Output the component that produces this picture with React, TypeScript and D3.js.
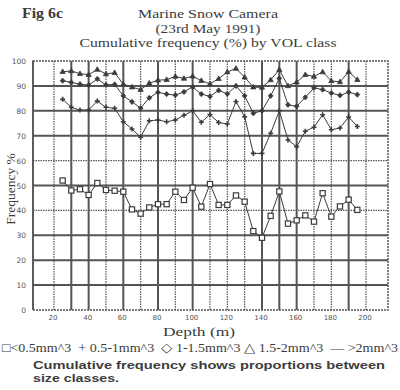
import React from "react";
import * as d3 from "d3";

const depths = [25, 30, 35, 40, 45, 50, 55, 60, 65, 70, 75, 80, 85, 90, 95, 100, 105, 110, 115, 120, 125, 130, 135, 140, 145, 150, 155, 160, 165, 170, 175, 180, 185, 190, 195];

const lt05 = [52, 48, 48.5, 46.2, 51, 48.2, 47.9, 47.5, 40.4, 38.7, 41.2, 42.5, 42.5, 47.5, 44.2, 49.1, 41.5, 50.6, 42.2, 42.2, 46, 43.5, 31.7, 29, 37.8, 47.6, 34.7, 36, 38, 35.5, 46.9, 37.5, 41.6, 44.3, 40.2];
const to1 = [84.6, 81.4, 80.3, 80.3, 83.9, 81.4, 81, 75.6, 72.7, 69.4, 76, 76.3, 75.6, 76.3, 78.2, 80, 75.4, 78.5, 75.3, 74.7, 83.7, 77.6, 62.9, 62.9, 71, 80, 68.3, 65.6, 71.8, 73.4, 78.4, 72.4, 73.1, 77.5, 73.7];
const to15 = [92.1, 91.4, 90.7, 90.3, 92.8, 90.4, 90.6, 86, 83.6, 81.1, 85.2, 87.4, 86.7, 86.3, 87.6, 89.6, 86.7, 85.8, 88.2, 86.8, 90, 86, 79, 80, 86, 93, 82.4, 81.8, 85.4, 89.2, 88.5, 87.1, 86.2, 87.5, 86.5];
const to2 = [95.7, 96, 94.9, 94.5, 96.6, 94.8, 95.3, 90.7, 89.5, 88.5, 91.1, 92.3, 92.5, 93.8, 93, 93.9, 92.1, 90.8, 92.9, 95.6, 97, 93.5, 89.5, 89.4, 92.4, 96.5, 90, 91.5, 94.5, 93.8, 95.6, 92, 91.6, 95.7, 92.5];

const xTicks = [20, 40, 60, 80, 100, 120, 140, 160, 180, 200];
const xGrid = [20, 30, 40, 50, 60, 70, 80, 90, 100, 110, 120, 130, 140, 150, 160, 170, 180, 190, 200];
const yTicks = [0, 10, 20, 30, 40, 50, 60, 70, 80, 90, 100];

const titleLines = ["Marine Snow Camera", "(23rd May 1991)", "Cumulative frequency (%) by VOL class"];
const titleWidths = [140, 105, 257];
const legendText = "\u25A1<0.5mm^3  + 0.5-1mm^3  \u25C7 1-1.5mm^3 \u25B3 1.5-2mm^3  \u2014 >2mm^3";
const captionLines = ["Cumulative frequency shows proportions between", "size classes."];

const boldX = new Set([30, 40, 60, 80, 100, 140, 150, 160, 190]);
const boldY = new Set([10, 20, 30, 50, 70, 80, 90]);

const INK = "#3c3c3c";

export default function App() {
  const W = 400, H = 390;
  const left = 33, right = 388, top = 61, bottom = 310;
  const x = d3.scaleLinear().domain([7.9, 212.7]).range([left, right]);
  const y = d3.scaleLinear().domain([0, 100]).range([bottom, top]);

  const line = d3.line<number>().x((_, i) => x(depths[i])).y((v) => y(v));

  const series = [
    { key: "sq", vals: lt05 },
    { key: "plus", vals: to1 },
    { key: "dia", vals: to15 },
    { key: "tri", vals: to2 },
  ];

  const marker = (key: string, cx: number, cy: number, k: number) => {
    if (key === "sq")
      return <rect key={k} x={cx - 2.6} y={cy - 2.6} width={5.2} height={5.2} fill="#fff" stroke={INK} strokeWidth={1.2} />;
    if (key === "plus")
      return (
        <path key={k} d={`M${cx - 2.5},${cy}H${cx + 2.5}M${cx},${cy - 2.5}V${cy + 2.5}`} stroke={INK} strokeWidth={1.6} />
      );
    if (key === "dia")
      return <path key={k} d={`M${cx},${cy - 2.6}L${cx + 2.4},${cy}L${cx},${cy + 2.6}L${cx - 2.4},${cy}Z`} fill={INK} stroke={INK} strokeWidth={0.8} />;
    return <path key={k} d={`M${cx},${cy - 2.8}L${cx + 2.6},${cy + 1.8}L${cx - 2.6},${cy + 1.8}Z`} fill={INK} stroke={INK} strokeWidth={0.8} />;
  };

  return (
    <svg width={W} height={H} style={{ position: "absolute", left: 0, top: 0, background: "#fff" }}>
      <rect x={0} y={0} width={W} height={H} fill="#fff" />
      {/* titles */}
      <text x={22} y={18} fontFamily="Liberation Serif" fontWeight="bold" fontSize={14.5} fill={INK} textLength={41} lengthAdjust="spacingAndGlyphs">Fig 6c</text>
      {titleLines.map((t, i) => (
        <text key={i} x={208} y={18 + i * 14.6} textAnchor="middle" fontFamily="Liberation Serif" fontSize={13.2}
          fill={INK} textLength={titleWidths[i]} lengthAdjust="spacingAndGlyphs">{t}</text>
      ))}

      {/* grid */}
      {yTicks.filter((v) => v > 0 && v < 100).map((v) => (
        <line key={"gy" + v} x1={left} x2={right} y1={y(v)} y2={y(v)} stroke="#555"
          strokeWidth={boldY.has(v) ? 2 : 1.2} strokeDasharray={boldY.has(v) ? undefined : "1.5,1"} />
      ))}
      {xGrid.map((v) => (
        <line key={"gx" + v} x1={x(v)} x2={x(v)} y1={top} y2={bottom} stroke="#555"
          strokeWidth={boldX.has(v) ? 2 : 1.2} strokeDasharray={boldX.has(v) ? undefined : "1.5,1"} />
      ))}
      <rect x={left} y={top} width={right - left} height={bottom - top} fill="none" stroke="#555" strokeWidth={1.5} strokeDasharray="2,1" />
      <line x1={left} x2={left} y1={top} y2={bottom} stroke="#555" strokeWidth={1.8} />

      {/* tick labels */}
      {yTicks.map((v) => (
        <text key={"yt" + v} x={26} y={y(v) + 3} textAnchor="end" fontFamily="DejaVu Sans" fontSize={7.5} fill="#555">{v}</text>
      ))}
      {xTicks.map((v) => (
        <text key={"xt" + v} x={x(v) - 1} y={320} textAnchor="middle" fontFamily="DejaVu Sans" fontSize={7} fill="#555">{v}</text>
      ))}

      {/* axis titles */}
      <text transform={`translate(15,189) rotate(-90)`} textAnchor="middle" fontFamily="Liberation Serif" fontSize={13.5} fill={INK}>Frequency %</text>
      <text x={199} y={336} textAnchor="middle" fontFamily="Liberation Serif" fontSize={13.5} fill={INK} textLength={72} lengthAdjust="spacingAndGlyphs">Depth (m)</text>

      {/* series */}
      {series.map((s) => (
        <g key={s.key}>
          <path d={line(s.vals) || ""} fill="none" stroke={INK} strokeWidth={1} />
          {s.vals.map((v, i) => marker(s.key, x(depths[i]), y(v), i))}
        </g>
      ))}

      {/* legend */}
      <text x={2} y={352} fontFamily="Liberation Serif" fontSize={12.5} fill={INK} textLength={396} lengthAdjust="spacingAndGlyphs" style={{ whiteSpace: "pre" }}>{legendText}</text>

      {/* caption */}
      <text x={33} y={369} fontFamily="Liberation Sans" fontWeight="bold" fontSize={11.5} fill={INK} textLength={352} lengthAdjust="spacingAndGlyphs">{captionLines[0]}</text>
      <text x={33} y={382} fontFamily="Liberation Sans" fontWeight="bold" fontSize={11.5} fill={INK} textLength={86} lengthAdjust="spacingAndGlyphs">{captionLines[1]}</text>
    </svg>
  );
}
